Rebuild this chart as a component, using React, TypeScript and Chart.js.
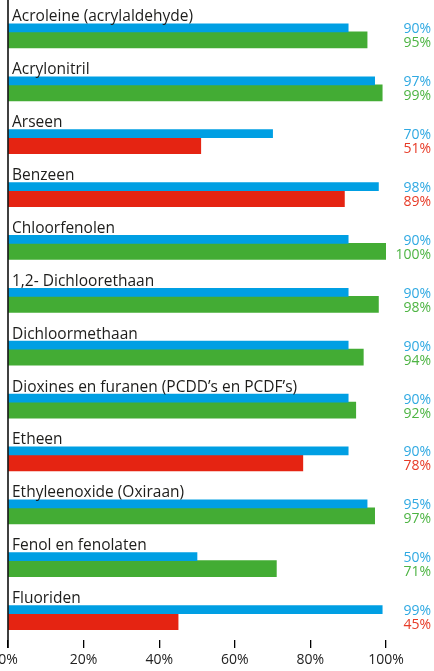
import React, { useEffect, useRef } from "react";
import { Chart, registerables } from "chart.js";

Chart.register(...registerables);

const categories: string[] = [
  "Acroleine (acrylaldehyde)",
  "Acrylonitril",
  "Arseen",
  "Benzeen",
  "Chloorfenolen",
  "1,2- Dichloorethaan",
  "Dichloormethaan",
  "Dioxines en furanen (PCDD’s en PCDF’s)",
  "Etheen",
  "Ethyleenoxide (Oxiraan)",
  "Fenol en fenolaten",
  "Fluoriden",
];

const targetValues: number[] = [90, 97, 70, 98, 90, 90, 90, 90, 90, 95, 50, 99];
const actualValues: number[] = [95, 99, 51, 89, 100, 98, 94, 92, 78, 97, 71, 45];

const xTicks: number[] = [0, 20, 40, 60, 80, 100];

const BLUE = "#009FE3";
const GREEN = "#43AC34";
const RED = "#E52412";
const BLUE_TEXT = "#2FA9E2";
const GREEN_TEXT = "#4DB443";
const RED_TEXT = "#E73A26";
const FONT = "'Open Sans', sans-serif";

const isMet = (i: number) => actualValues[i] >= targetValues[i];

const labelsPlugin = {
  id: "labelsPlugin",
  afterDatasetsDraw(chart: any) {
    const { ctx, chartArea, scales } = chart;
    const xs = scales.x;
    const ys = scales.y;
    ctx.save();
    const x0 = xs.getPixelForValue(0);
    ctx.strokeStyle = "#000";
    ctx.lineWidth = 1.5;
    ctx.beginPath();
    ctx.moveTo(x0, 0);
    ctx.lineTo(x0, chartArea.bottom + 8);
    ctx.stroke();

    categories.forEach((cat, i) => {
      const p = ys.getPixelForValue(i);
      ctx.font = `15.5px ${FONT}`;
      ctx.textAlign = "left";
      ctx.textBaseline = "alphabetic";
      ctx.fillStyle = "#1d1d1b";
      ctx.fillText(cat, x0 + 4, p - 10.5);

      ctx.font = `14px ${FONT}`;
      ctx.textAlign = "right";
      ctx.fillStyle = BLUE_TEXT;
      ctx.fillText(`${targetValues[i]}%`, 431, p + 1.5);
      ctx.fillStyle = isMet(i) ? GREEN_TEXT : RED_TEXT;
      ctx.fillText(`${actualValues[i]}%`, 431, p + 15.5);
    });
    ctx.restore();
  },
};

export default function App() {
  const ref = useRef<HTMLCanvasElement | null>(null);
  useEffect(() => {
    if (!ref.current) return;
    const chart = new Chart(ref.current, {
      type: "bar",
      data: {
        labels: categories,
        datasets: [
          {
            label: "Doel",
            data: targetValues,
            backgroundColor: BLUE,
            barThickness: 8,
            borderWidth: 0,
          },
          {
            label: "Resultaat",
            data: actualValues,
            backgroundColor: actualValues.map((_, i) => (isMet(i) ? GREEN : RED)),
            barThickness: 16,
            borderWidth: 0,
          },
        ],
      },
      options: {
        indexAxis: "y",
        responsive: false,
        animation: false,
        devicePixelRatio: 1,
        layout: { padding: { left: 8, right: 48, top: 5.5, bottom: 0 } },
        plugins: {
          legend: { display: false },
          tooltip: { enabled: false },
        },
        scales: {
          y: {
            type: "category",
            display: false,
            offset: true,
          },
          x: {
            type: "linear",
            min: 0,
            max: 100,
            afterBuildTicks: (scale: any) => {
              scale.ticks = xTicks.map((v) => ({ value: v }));
            },
            afterFit: (scale: any) => {
              scale.height = 31;
              scale.paddingLeft = 0;
              scale.paddingRight = 0;
            },
            border: { display: false },
            grid: {
              drawOnChartArea: false,
              drawTicks: true,
              tickLength: 8,
              color: "#000",
              lineWidth: 1.3,
            },
            ticks: {
              padding: 4,
              color: "#222",
              font: { family: FONT, size: 14 },
              callback: (v: any) => `${v}%`,
              maxRotation: 0,
            },
          },
        },
      },
      plugins: [labelsPlugin],
    } as any);
    return () => chart.destroy();
  }, []);
  return (
    <div style={{ position: "absolute", left: 0, top: 0, width: 434, height: 671 }}>
      <canvas ref={ref} width={434} height={671} style={{ display: "block" }} />
    </div>
  );
}
